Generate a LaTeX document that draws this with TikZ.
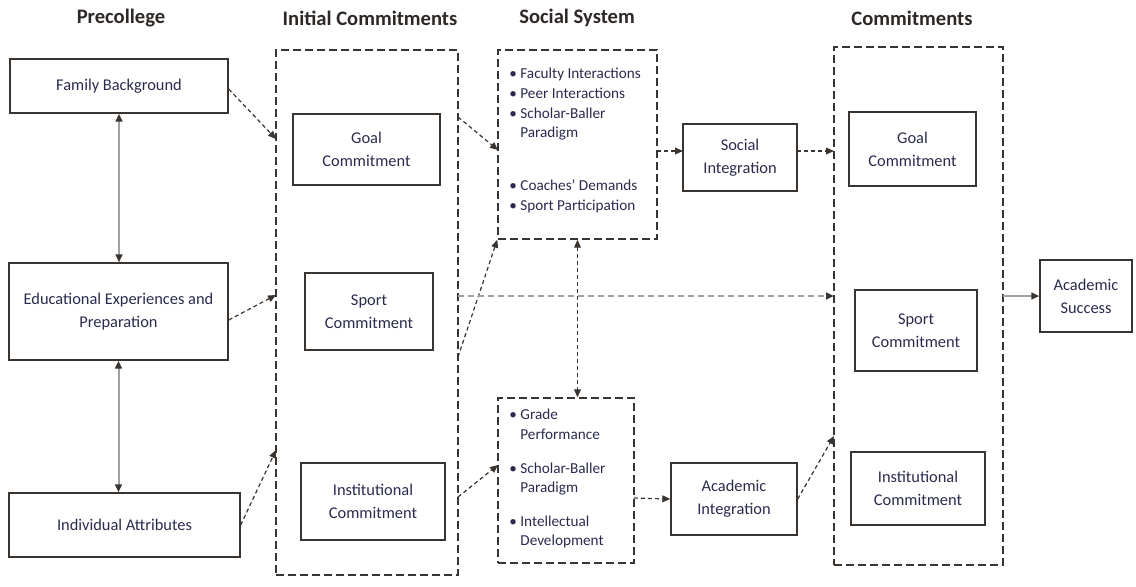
\documentclass[tikz,border=0pt]{standalone}
\usepackage{fontspec}
\setmainfont{Carlito}
\usepackage{tikz}
\usetikzlibrary{arrows.meta}
\definecolor{boxline}{RGB}{58,52,48}
\definecolor{boxtext}{RGB}{42,42,78}
\definecolor{headtext}{RGB}{45,40,38}
\definecolor{linkgray}{RGB}{160,160,160}

\begin{document}
\begin{tikzpicture}[x=0.5pt,y=-0.5pt,
	solidbox/.style={draw=boxline,line width=0.7pt,align=center,text=boxtext,font=\fontsize{8.2}{11.5}\selectfont,inner sep=0pt},
	groupbox/.style={draw=boxline,line width=0.7pt,dash pattern=on 4pt off 2pt,inner sep=0pt},
	header/.style={text=headtext,font=\fontsize{10.3}{12}\selectfont\bfseries,inner sep=0pt},
	bullets/.style={text=boxtext,font=\fontsize{7.6}{9.8}\selectfont,align=left,anchor=north west,inner sep=0pt},
	tip/.style={-{Triangle[length=4pt,width=3.4pt,color=boxline]}},
	bothtips/.style={{Triangle[length=4pt,width=3.4pt,color=boxline]}-{Triangle[length=4pt,width=3.4pt,color=boxline]}},
	dashlink/.style={tip,draw=boxline,line width=0.6pt,dash pattern=on 2pt off 1.5pt},
	graylink/.style={tip,draw=linkgray,line width=1pt},
	graydash/.style={graylink,dash pattern=on 3pt off 2pt}]
	\useasboundingbox (0,0) rectangle (1136,586);

	\node [header] (hpre) at (121,18) {Precollege};
	\node [header] (hinit) at (370,18) {Initial Commitments};
	\node [header] (hsoc) at (577,18) {Social System};
	\node [header] (hcom) at (912,18) {Commitments};

	\node [solidbox,minimum width=109pt,minimum height=27pt] (fam) at (119,86) {Family Background};
	\node [solidbox,minimum width=109.5pt,minimum height=48.5pt] (edu) at (118.5,311.5) {Educational Experiences and\\Preparation};
	\node [solidbox,minimum width=115.5pt,minimum height=32pt] (ind) at (124.5,525) {Individual Attributes};

	\node [groupbox,minimum width=91pt,minimum height=262.5pt] (initbox) at (367,312.5) {};
	\node [solidbox,minimum width=73.5pt,minimum height=35.5pt] (igoal) at (366.5,149.5) {Goal\\Commitment};
	\node [solidbox,minimum width=64pt,minimum height=38.5pt] (isport) at (369,311.5) {Sport\\Commitment};
	\node [solidbox,minimum width=72pt,minimum height=38.5pt] (iinst) at (373,501.5) {Institutional\\Commitment};

	\node [groupbox,minimum width=79.5pt,minimum height=94.5pt] (social) at (577.5,144.5) {};
	\node [bullets] (sociallist) at (509,68) {\textbullet\ Faculty Interactions\\
		\textbullet\ Peer Interactions\\
		\textbullet\ Scholar-Baller\\
		\hphantom{\textbullet\ }Paradigm\\[16.7pt]
		\textbullet\ Coaches’ Demands\\
		\textbullet\ Sport Participation};
	\node [solidbox,minimum width=57pt,minimum height=33.5pt] (sint) at (740,157.5) {Social\\Integration};

	\node [groupbox,minimum width=68pt,minimum height=82.5pt] (acad) at (566,480.5) {};
	\node [bullets] (acadlist) at (509,409) {\textbullet\ Grade\\
		\hphantom{\textbullet\ }Performance\\[7pt]
		\textbullet\ Scholar-Baller\\
		\hphantom{\textbullet\ }Paradigm\\[7pt]
		\textbullet\ Intellectual\\
		\hphantom{\textbullet\ }Development};
	\node [solidbox,minimum width=63pt,minimum height=36pt] (aint) at (734,499) {Academic\\Integration};

	\node [groupbox,minimum width=84.5pt,minimum height=259pt] (combox) at (918.5,306) {};
	\node [solidbox,minimum width=63.5pt,minimum height=37pt] (cgoal) at (912.5,149) {Goal\\Commitment};
	\node [solidbox,minimum width=61pt,minimum height=40.5pt] (csport) at (916,330.5) {Sport\\Commitment};
	\node [solidbox,minimum width=67pt,minimum height=36.5pt] (cinst) at (918,488.5) {Institutional\\Commitment};

	\node [solidbox,minimum width=46pt,minimum height=36pt] (success) at (1086,296) {Academic\\Success};

	\coordinate (initin1) at (276,139);
	\coordinate (initin2) at (276,295);
	\coordinate (initin3) at (276,450);
	\coordinate (initout1) at (458,117);
	\coordinate (initout2) at (458,357);
	\coordinate (initout3) at (458,497);
	\coordinate (initout4) at (458,296);
	\coordinate (socialin) at (498,150);
	\coordinate (acadin) at (498,465);
	\coordinate (socialout) at (657,151);
	\coordinate (sintin) at (683,151);
	\coordinate (sintout) at (797,151);
	\coordinate (comin1) at (834,151);
	\coordinate (comin2) at (834,296);
	\coordinate (comin3) at (834,436);
	\coordinate (acadout) at (634,498);
	\coordinate (comout) at (1003,296);

	\draw [graylink,bothtips] (fam.south) -- (fam.south |- edu.north);
	\draw [graylink,bothtips] (edu.south) -- (edu.south |- ind.north);

	\draw [dashlink] ([yshift=-1.5pt]fam.east) -- (initin1);
	\draw [dashlink] ([yshift=-4.25pt]edu.east) -- (initin2);
	\draw [dashlink] (ind.east) -- (initin3);

	\draw [dashlink] (initout1) -- (socialin);
	\draw [dashlink] (initout2) -- (social.south west);
	\draw [dashlink] (initout3) -- (acadin);
	\draw [graydash] (initout4) -- (comin2);

	\draw [dashlink,bothtips] (social.south) -- (social.south |- acad.north);

	\draw [dashlink] (socialout) -- (sintin);
	\draw [dashlink] (sintout) -- (comin1);
	\draw [dashlink] (acadout) -- (aint.west);
	\draw [dashlink] (aint.east) -- (comin3);

	\draw [graylink] (comout) -- (success.west);
\end{tikzpicture}
\end{document}
